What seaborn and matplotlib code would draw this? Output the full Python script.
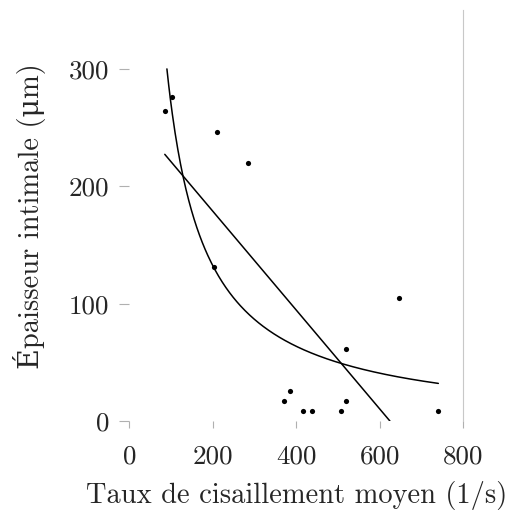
import numpy as np
import pandas as pd
import matplotlib
matplotlib.use("Agg")
import matplotlib.pyplot as plt
import seaborn as sns

# Data
shear_rate = [85, 103, 210, 284, 202, 645, 518, 370, 384, 417, 438, 506, 520, 740]
thickness = [264, 276, 246, 220, 131.5, 105, 61, 17, 26, 8.5, 8.5, 8.5, 17, 8.5]
x_ticks = [0, 200, 400, 600, 800]
y_ticks = [0, 100, 200, 300]
x_label = "Taux de cisaillement moyen (1/s)"
y_label = "Épaisseur intimale (\u03bcm)"

sns.set_theme(style="white")
plt.rcParams["font.family"] = ["cmr10", "DejaVu Serif"]
plt.rcParams["mathtext.fontset"] = "cm"
plt.rcParams["axes.unicode_minus"] = False

df = pd.DataFrame({"x": shear_rate, "y": thickness})
xa = np.asarray(shear_rate, float)
ya = np.asarray(thickness, float)

# Linear least-squares fit
slope, intercept = np.polyfit(xa, ya, 1)
x_root = -intercept / slope
xl = np.linspace(xa.min(), min(x_root, xa.max()), 200)
lin = pd.DataFrame({"x": xl, "y": slope * xl + intercept})

# Hyperbolic fit y = a/x + b
a, b = np.polyfit(1.0 / xa, ya, 1)
x_start = max(xa.min(), a / (300 - b))
xh = np.linspace(x_start, xa.max(), 300)
hyp = pd.DataFrame({"x": xh, "y": a / xh + b})

fig = plt.figure(figsize=(5.07, 5.11), dpi=100)
ax = fig.add_axes([0.255, 0.176, 0.659, 0.804])

sns.lineplot(data=lin, x="x", y="y", ax=ax, color="black", linewidth=1.1, sort=False)
sns.lineplot(data=hyp, x="x", y="y", ax=ax, color="black", linewidth=1.1, sort=False)
sns.scatterplot(data=df, x="x", y="y", ax=ax, color="black", s=14, linewidth=0)

ax.set_xlim(0, 800)
ax.set_ylim(0, 350)
ax.set_xticks(x_ticks)
ax.set_yticks(y_ticks)
ax.set_xticklabels([str(t) for t in x_ticks])
ax.set_yticklabels([str(t) for t in y_ticks])
for s in ["left", "top", "bottom"]:
    ax.spines[s].set_visible(False)
ax.spines["right"].set_color("#c8c8c8")
ax.spines["right"].set_linewidth(0.8)
ax.tick_params(axis="both", which="both", direction="out", width=0.8,
               color="#b0b0b0", labelsize=19.5, left=True, bottom=True)
ax.tick_params(axis="x", length=5, pad=12)
ax.tick_params(axis="y", length=7.5, pad=7)
ax.set_xlabel(x_label, fontsize=20.5, labelpad=9)
ax.set_ylabel(y_label, fontsize=20.5, labelpad=16)

fig.savefig("out.png", dpi=100)
